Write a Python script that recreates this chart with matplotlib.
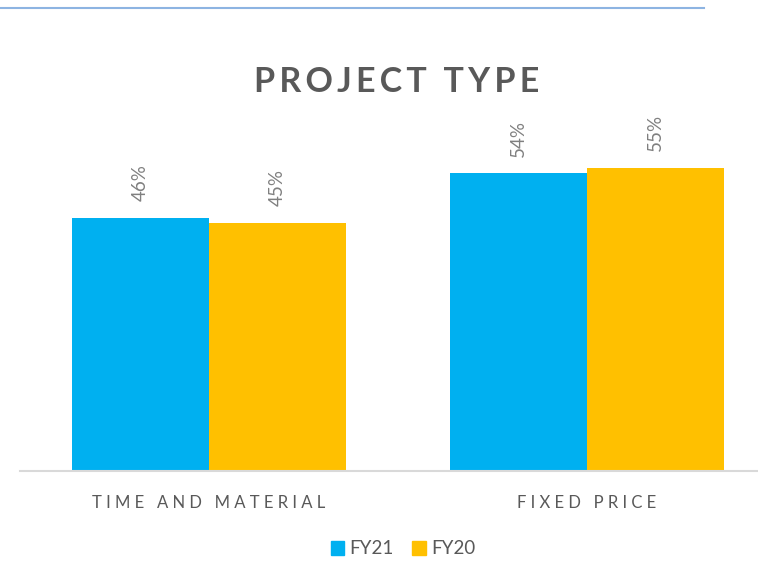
import numpy as np
import matplotlib.pyplot as plt
from matplotlib.lines import Line2D
from matplotlib.patches import Patch

# Data
categories = ['TIME AND MATERIAL', 'FIXED PRICE']
series_names = ['FY21', 'FY20']
fy21 = [46, 54]
fy20 = [45, 55]
colors = ['#00B0F0', '#FFC000']

plt.rcParams['font.family'] = ['Lato', 'DejaVu Sans']


def spaced(s, sep='\u2009'):
    return sep.join(s)


fig = plt.figure(figsize=(7.58, 5.61), dpi=100)

# thin blue line at the top of the slide
fig.add_artist(Line2D([0, 704 / 758], [1 - 8 / 561] * 2, color='#8DB4E2', lw=1.5))

ax = fig.add_axes([20 / 758, 90 / 561, 738 / 758, 351 / 561])
x = np.arange(len(categories))
w = 0.363
b1 = ax.bar(x - w / 2, fy21, w, color=colors[0], label=series_names[0])
b2 = ax.bar(x + w / 2, fy20, w, color=colors[1], label=series_names[1])

for bars in (b1, b2):
    for rect in bars:
        ax.annotate(f'{rect.get_height():.0f}%',
                    (rect.get_x() + rect.get_width() / 2, rect.get_height()),
                    xytext=(0, 12), textcoords='offset points',
                    rotation=90, ha='center', va='bottom',
                    fontsize=13.5, color='#808080')

ax.set_xlim(-0.5006, 1.454)
ax.set_ylim(0, 351 / 5.51)
for s in ['top', 'right', 'left']:
    ax.spines[s].set_visible(False)
ax.spines['bottom'].set_color('#D9D9D9')
ax.spines['bottom'].set_linewidth(1.5)
ax.set_yticks([])
ax.set_xticks(x)
ax.set_xticklabels([spaced(c, '\u2009\u2009') for c in categories], fontsize=12, color='#595959')
ax.tick_params(axis='x', length=0, pad=17)

fig.text(397 / 758, 1 - 82 / 561, spaced('PROJECT TYPE'), ha='center', va='center',
         fontsize=24.5, fontweight='bold', color='#595959')

handles = [Patch(color=c, label=n) for c, n in zip(colors, series_names)]
fig.legend(handles=handles, loc='center', bbox_to_anchor=(403 / 758, 1 - 549 / 561),
           ncol=2, frameon=False, fontsize=13.5, labelcolor='#595959',
           handlelength=0.7, handleheight=0.7, handletextpad=0.3, columnspacing=1.0)

plt.savefig('out.png', dpi=100)
